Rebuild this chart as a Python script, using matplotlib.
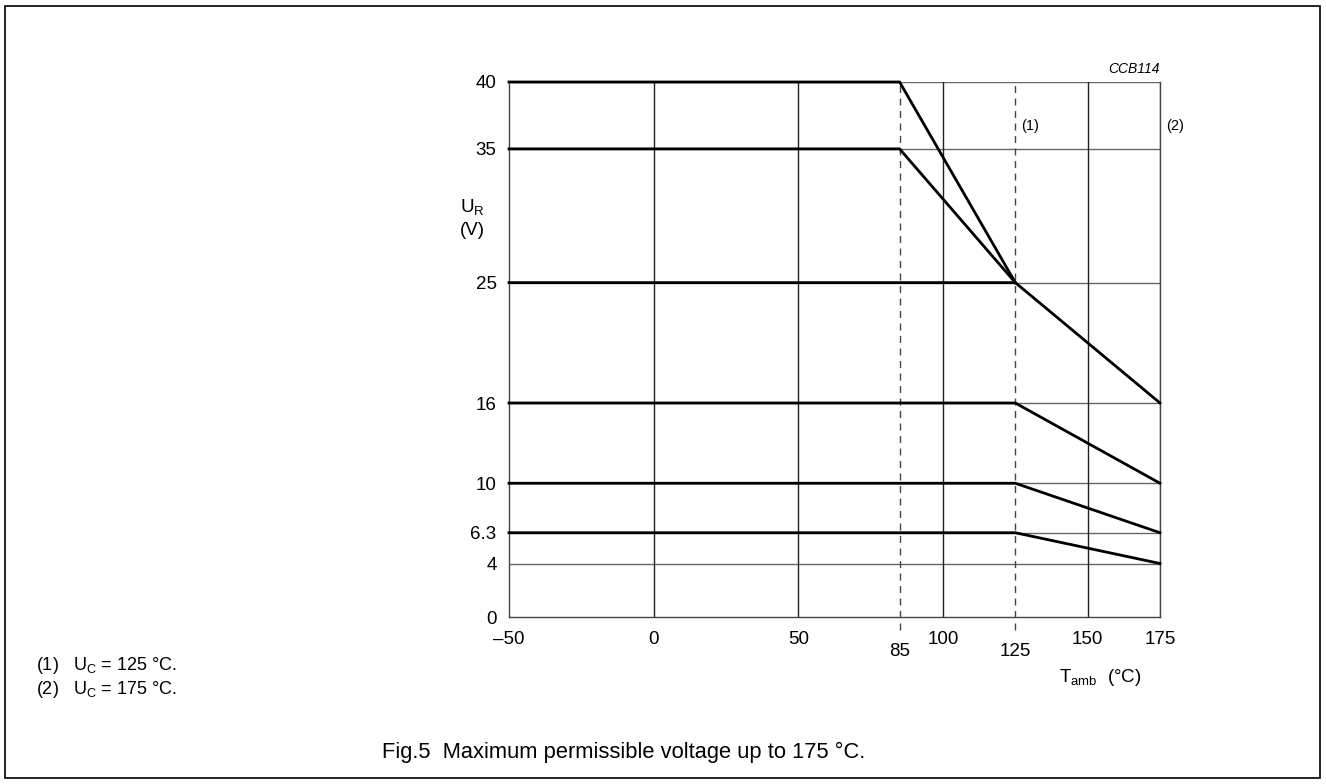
import matplotlib
matplotlib.use("Agg")
import matplotlib.pyplot as plt
from matplotlib.patches import Rectangle

plt.rcParams["font.family"] = ["Liberation Sans", "DejaVu Sans"]
plt.rcParams["mathtext.fontset"] = "custom"
plt.rcParams["mathtext.rm"] = "Liberation Sans"

# -----------------------------
# Data (derating curves)
# -----------------------------
rated_v = [40, 35, 25, 16, 10, 6.3]
knee_t = [85, 85, 125, 125, 125, 125]
end_t = [125, 125, 175, 175, 175, 175]
end_v = [25, 25, 16, 10, 6.3, 4]
t_min = -50

y_ticks = [0, 4, 6.3, 10, 16, 25, 35, 40]
x_ticks = [-50, 0, 50, 100, 150, 175]
x_ticks_low = [85, 125]
x_grid = [0, 50, 100, 150, 175]

fig = plt.figure(figsize=(13.26, 7.84), dpi=100)
ax = fig.add_axes([509 / 1326, 1 - 617 / 784, 651 / 1326, 535 / 784])
ax.set_xlim(-50, 175)
ax.set_ylim(0, 40)

# grid
for y in y_ticks[1:]:
    ax.axhline(y, color="#666666", lw=1.0, zorder=1)
for x in x_grid:
    ax.axvline(x, color="#222222" if x != 175 else "#666666", lw=1.0, zorder=1)
for x in x_ticks_low:
    ax.plot([x, x], [-1.0, 40], color="#444444", lw=1.0, ls=(0, (5, 4)),
            clip_on=False, zorder=1)

# curves
for v, kt, et, ev in zip(rated_v, knee_t, end_t, end_v):
    ax.plot([t_min, kt, et], [v, v, ev], color="black", lw=2.0,
            solid_joinstyle="miter", clip_on=False, zorder=3)

for s in ax.spines.values():
    s.set_color("#444444")
    s.set_linewidth(1.0)
ax.spines["top"].set_visible(False)

ax.set_yticks(y_ticks)
ax.set_yticklabels(["0", "4", "6.3", "10", "16", "25", "35", "40"])
ax.set_xticks(x_ticks)
ax.set_xticklabels(["\u201350", "0", "50", "100", "150", "175"])
ax.tick_params(length=0, labelsize=13.5, pad=9)
ax.tick_params(axis="x", pad=10)
for x in x_ticks_low:
    ax.text(x, -2.6, str(x), ha="center", va="center", fontsize=13.5)

ax.text(-67, 29.8, "U$_\\mathregular{R}$\n(V)", ha="left", va="center",
        fontsize=13.5, linespacing=1.25)
ax.text(154.5, -4.5, "T$_\\mathregular{amb}$  (\u00b0C)", ha="center", va="center",
        fontsize=13.5)
ax.text(127, 36.7, "(1)", ha="left", va="center", fontsize=10.5)
ax.text(177, 36.7, "(2)", ha="left", va="center", fontsize=10.5)
ax.text(175, 41.0, "CCB114", ha="right", va="center", fontsize=10, style="italic")

# footnotes and caption
fig.text(36 / 1326, 1 - 665 / 784, "(1)   U$_\\mathregular{C}$ = 125 \u00b0C.",
         ha="left", va="center", fontsize=13)
fig.text(36 / 1326, 1 - 690 / 784, "(2)   U$_\\mathregular{C}$ = 175 \u00b0C.",
         ha="left", va="center", fontsize=13)
fig.text(624 / 1326, 1 - 752 / 784, "Fig.5  Maximum permissible voltage up to 175 \u00b0C.",
         ha="center", va="center", fontsize=15.75)

fig.patches.append(Rectangle((5 / 1326, 6 / 784), 1315 / 1326, 772 / 784,
                             transform=fig.transFigure, fill=False,
                             edgecolor="black", lw=1.2))

fig.savefig("out.png", dpi=100)
